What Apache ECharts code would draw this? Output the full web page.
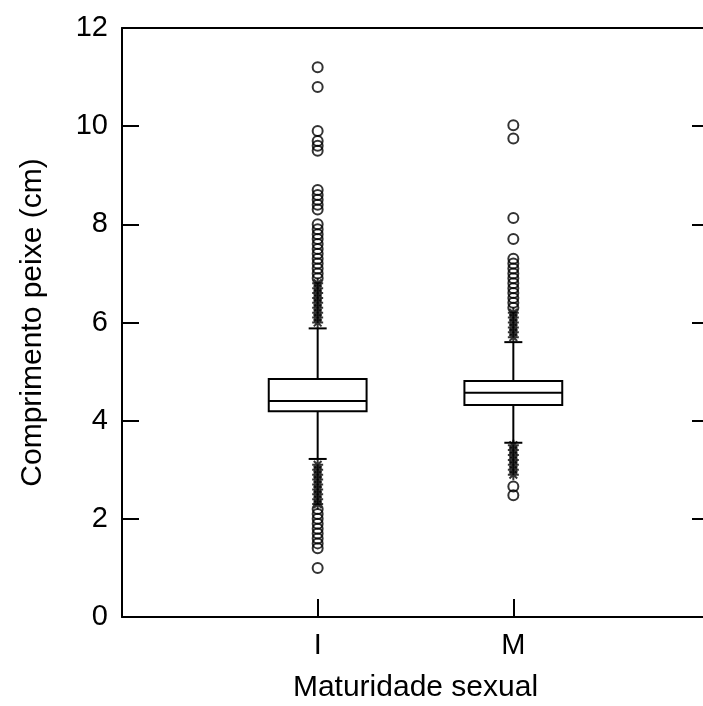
<!DOCTYPE html>
<html>
<head>
<meta charset="utf-8">
<script src="https://cdn.jsdelivr.net/npm/echarts@6/dist/echarts.min.js"></script>
<style>
html,body{margin:0;padding:0;background:#fff;}
#chart{width:703px;height:706px;}
</style>
</head>
<body>
<div id="chart"></div>
<script>
// ---- data ----
const categories = ['I', 'M'];
const whiskerLow  = [3.22, 3.55];
const q1          = [4.19, 4.32];
const median      = [4.40, 4.57];
const q3          = [4.85, 4.81];
const whiskerHigh = [5.88, 5.60];

// outside values (asterisks) and far-outside values (circles)
const starsI   = [6.0, 6.1, 6.2, 6.3, 6.4, 6.5, 6.6, 6.7, 6.8, 3.1, 3.0, 2.9, 2.8, 2.7, 2.6, 2.5, 2.4, 2.3];
const circlesI = [11.2, 10.8, 9.9, 9.7, 9.6, 9.5, 8.7, 8.6, 8.5, 8.4, 8.3,
                  8.0, 7.9, 7.8, 7.7, 7.6, 7.5, 7.4, 7.3, 7.2, 7.1, 7.0, 6.9,
                  2.2, 2.1, 2.0, 1.9, 1.8, 1.7, 1.6, 1.5, 1.4, 1.0];
const starsM   = [6.2, 6.1, 6.0, 5.9, 5.8, 5.7, 3.5, 3.4, 3.3, 3.2, 3.1, 3.0, 2.9];
const circlesM = [10.02, 9.75, 8.13, 7.7, 7.3, 7.2, 7.1, 7.0, 6.9, 6.8, 6.7, 6.6, 6.5, 6.4, 6.3, 2.66, 2.48];

const yTicks = [0, 2, 4, 6, 8, 10, 12];

// ---- build ----
const boxData = categories.map((c, i) => [i + 1, whiskerLow[i], q1[i], median[i], q3[i], whiskerHigh[i]]);
const starData = [].concat(starsI.map(v => [1, v]), starsM.map(v => [2, v]));
const circleData = [].concat(circlesI.map(v => [1, v]), circlesM.map(v => [2, v]));

const FONT = "'Liberation Sans', Arial, sans-serif";
const chart = echarts.init(document.getElementById('chart'), null, {renderer: 'canvas'});

function renderBox(params, api) {
  const x = api.value(0);
  const pLow = api.coord([x, api.value(1)]);
  const pQ1 = api.coord([x, api.value(2)]);
  const pMed = api.coord([x, api.value(3)]);
  const pQ3 = api.coord([x, api.value(4)]);
  const pHigh = api.coord([x, api.value(5)]);
  const unit = api.size([1, 0])[0];
  const hw = unit * 0.25;
  const cw = unit * 0.046;
  const cx = pMed[0];
  const st = {stroke: '#000', fill: null, lineWidth: 2};
  return {
    type: 'group',
    children: [
      {type: 'line', shape: {x1: cx, y1: pQ3[1], x2: cx, y2: pHigh[1]}, style: st},
      {type: 'line', shape: {x1: cx, y1: pQ1[1], x2: cx, y2: pLow[1]}, style: st},
      {type: 'line', shape: {x1: cx - cw, y1: pHigh[1], x2: cx + cw, y2: pHigh[1]}, style: st},
      {type: 'line', shape: {x1: cx - cw, y1: pLow[1], x2: cx + cw, y2: pLow[1]}, style: st},
      {type: 'rect', shape: {x: cx - hw, y: pQ3[1], width: 2 * hw, height: pQ1[1] - pQ3[1]}, style: {stroke: '#000', fill: '#fff', lineWidth: 2}},
      {type: 'line', shape: {x1: cx - hw, y1: pMed[1], x2: cx + hw, y2: pMed[1]}, style: st}
    ]
  };
}

const axisLineStyle = {color: '#000', width: 2};
const tickStyle = {color: '#000', width: 2};
const option = {
  animation: false,
  backgroundColor: '#fff',
  grid: {left: 122, top: 28, right: -6, bottom: 89, containLabel: false, outerBoundsMode: 'none'},
  xAxis: [
    {
      type: 'value', min: 0, max: 3, interval: 1, position: 'bottom',
      name: 'Maturidade sexual', nameLocation: 'middle', nameGap: 56,
      nameTextStyle: {fontFamily: FONT, fontSize: 30, color: '#000'},
      axisLine: {show: true, onZero: false, lineStyle: axisLineStyle},
      axisTick: {show: true, inside: true, length: 18, lineStyle: tickStyle},
      axisLabel: {fontFamily: FONT, fontSize: 29, color: '#000', margin: 14,
        formatter: v => (v >= 1 && v <= categories.length) ? categories[v - 1] : ''},
      splitLine: {show: false}
    },
    {
      type: 'value', min: 0, max: 3, interval: 1, position: 'top',
      axisLine: {show: true, onZero: false, lineStyle: axisLineStyle},
      axisTick: {show: false}, axisLabel: {show: false}, splitLine: {show: false}
    }
  ],
  yAxis: [
    {
      type: 'value', min: yTicks[0], max: yTicks[yTicks.length - 1], interval: 2, position: 'left',
      name: 'Comprimento peixe (cm)', nameLocation: 'middle', nameGap: 74, nameRotate: 90,
      nameTextStyle: {fontFamily: FONT, fontSize: 30, color: '#000'},
      axisLine: {show: true, onZero: false, lineStyle: axisLineStyle},
      axisTick: {show: true, inside: true, length: 17, lineStyle: tickStyle},
      axisLabel: {fontFamily: FONT, fontSize: 29, color: '#000', margin: 14},
      splitLine: {show: false}
    },
    {
      type: 'value', min: yTicks[0], max: yTicks[yTicks.length - 1], interval: 2, position: 'right',
      axisLine: {show: true, onZero: false, lineStyle: axisLineStyle},
      axisTick: {show: true, inside: true, length: 17, lineStyle: tickStyle},
      axisLabel: {show: false}, splitLine: {show: false}
    }
  ],
  series: [
    {
      type: 'custom', renderItem: renderBox, data: boxData,
      encode: {x: 0, y: [1, 2, 3, 4, 5]}, z: 2
    },
    {
      type: 'scatter', data: starData, z: 3,
      symbol: 'path://M0,5L10,5M5,0L5,10M1.5,1.5L8.5,8.5M8.5,1.5L1.5,8.5',
      symbolSize: 11,
      itemStyle: {color: 'rgba(0,0,0,0)', borderColor: '#000', borderWidth: 2}
    },
    {
      type: 'scatter', data: circleData, z: 3,
      symbol: 'circle', symbolSize: 10,
      itemStyle: {color: 'rgba(0,0,0,0)', borderColor: '#000', borderWidth: 2}
    }
  ]
};
chart.setOption(option);
</script>
</body>
</html>
